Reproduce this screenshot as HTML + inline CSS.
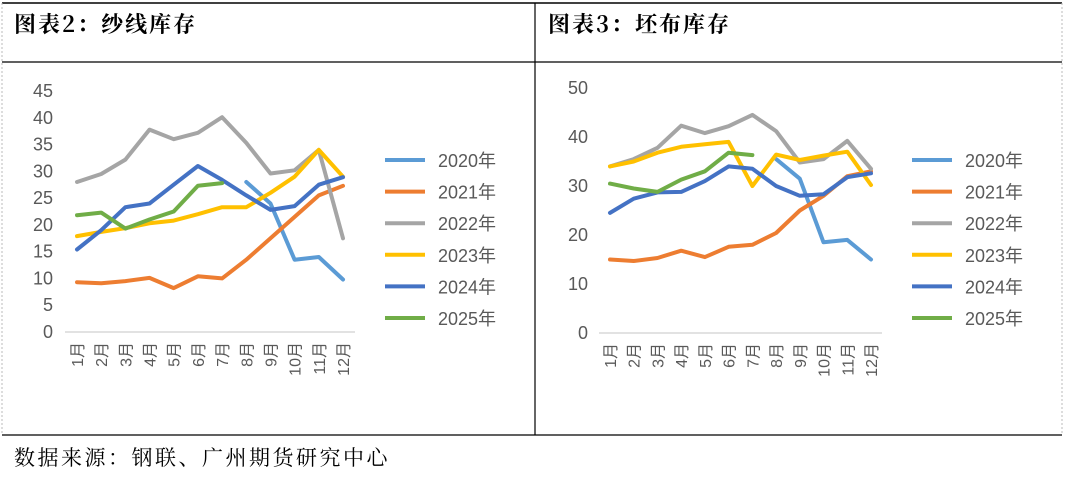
<!DOCTYPE html>
<html><head><meta charset="utf-8"><style>
body{margin:0;width:1065px;height:475px;background:#fff;overflow:hidden;font-family:"Liberation Sans","Noto Sans CJK SC",sans-serif}
</style></head><body>
<svg id="s" width="1065" height="475" xmlns="http://www.w3.org/2000/svg">
<line x1="2" y1="3" x2="1062" y2="3" stroke="#000" stroke-width="1.5"/>
<line x1="2" y1="62" x2="1062" y2="62" stroke="#000" stroke-width="1.2"/>
<line x1="2" y1="435" x2="1062" y2="435" stroke="#000" stroke-width="1.2"/>
<line x1="535" y1="3" x2="535" y2="435" stroke="#000" stroke-width="1.2"/>
<line x1="2" y1="3" x2="2" y2="435" stroke="#bbb" stroke-dasharray="2,2"/>
<line x1="1062" y1="3" x2="1062" y2="435" stroke="#bbb" stroke-dasharray="2,2"/>
<text x="14" y="32" font-family="'Noto Serif CJK SC',serif" font-weight="bold" font-size="22" letter-spacing="2">图表2：纱线库存</text>
<text x="548" y="32" font-family="'Noto Serif CJK SC',serif" font-weight="bold" font-size="22" letter-spacing="2">图表3：坯布库存</text>
<text x="14" y="465" font-family="'Noto Serif CJK SC',serif" font-size="21" letter-spacing="2.5">数据来源：钢联、广州期货研究中心</text>
<g id="c1"></g>
<g id="c2"></g>
</svg>
<script>
const months=["1月","2月","3月","4月","5月","6月","7月","8月","9月","10月","11月","12月"];
const years=["2020年","2021年","2022年","2023年","2024年","2025年"];
const colors=["#5B9BD5","#ED7D31","#A5A5A5","#FFC000","#4472C4","#70AD47"];
const yarn2020=[null,null,null,null,null,null,null,28,24,13.5,14,9.8];
const yarn2021=[9.3,9.1,9.5,10.1,8.2,10.4,10,13.5,17.5,21.5,25.5,27.3];
const yarn2022=[28,29.5,32.2,37.8,36,37.2,40.1,35.3,29.6,30.2,34,17.5];
const yarn2023=[17.9,18.7,19.4,20.3,20.8,22,23.3,23.3,26,29,34,29];
const yarn2024=[15.4,19,23.3,24,27.5,31,28.4,25.5,22.8,23.5,27.5,28.9];
const yarn2025=[21.8,22.3,19.3,21,22.5,27.3,27.8];
const yarnTicks=[0,5,10,15,20,25,30,35,40,45];
const cloth2020=[null,null,null,null,null,null,null,35.5,31.5,18.5,19,15];
const cloth2021=[15,14.7,15.3,16.8,15.5,17.6,18,20.4,25,28,32,33];
const cloth2022=[34,35.5,37.8,42.3,40.8,42.2,44.5,41.2,34.8,35.5,39.2,33.5];
const cloth2023=[34,35,36.8,38,38.5,39,30,36.4,35.3,36.2,37,30.2];
const cloth2024=[24.5,27.4,28.7,28.8,31,34,33.5,30,28,28.3,31.8,32.6];
const cloth2025=[30.5,29.5,28.8,31.3,33,36.8,36.3];
const clothTicks=[0,10,20,30,40,50];
const NS="http://www.w3.org/2000/svg";
function mk(t,a,p){const e=document.createElementNS(NS,t);for(const k in a)e.setAttribute(k,a[k]);p.appendChild(e);return e;}
function draw(g,series,ticks,o){
  const ymax=ticks[ticks.length-1];
  const y=v=>o.y0-(v/ymax)*(o.y0-o.yt);
  const x=i=>o.x1+i*(o.x12-o.x1)/11;
  ticks.forEach(t=>{const e=mk("text",{x:o.tx,y:y(t)+6,"text-anchor":"end","font-size":"18",fill:"#595959"},g);e.textContent=t;
    
    });
  const ax=mk("line",{x1:o.ax0,x2:o.ax1,y1:o.y0,y2:o.y0,stroke:"#d9d9d9","stroke-width":1.5},g);
  
  
  months.forEach((m,i)=>{const e=mk("text",{transform:`translate(${x(i)+6},${o.y0+10}) rotate(-90)`,"text-anchor":"end","font-size":"16",fill:"#595959"},g);e.textContent=m;
    
    });
  series.forEach((s,k)=>{let d="";let pen=false;s.forEach((v,i)=>{if(v==null){pen=false;return;}d+=(pen?"L":"M")+x(i).toFixed(1)+","+y(v).toFixed(1);pen=true;});
    const p=mk("path",{d:d,fill:"none",stroke:colors[k],"stroke-width":4,"stroke-linejoin":"round","stroke-linecap":"round"},g);
    
    
    const ly=160+k*31.6;
    const l=mk("line",{x1:o.lx,x2:o.lx+40,y1:ly,y2:ly,stroke:colors[k],"stroke-width":4},g);
    
    
    const t=mk("text",{x:o.lx+53,y:ly+7,"font-size":"18",fill:"#595959"},g);t.textContent=years[k];
    
    
  });
}
draw(document.getElementById("c1"),[yarn2020,yarn2021,yarn2022,yarn2023,yarn2024,yarn2025],yarnTicks,{y0:332,yt:91,x1:77,x12:343,tx:53,ax0:65,ax1:355,lx:385});
draw(document.getElementById("c2"),[cloth2020,cloth2021,cloth2022,cloth2023,cloth2024,cloth2025],clothTicks,{y0:333,yt:88,x1:610,x12:871,tx:588,ax0:599,ax1:882,lx:912});
</script>
</body></html>
